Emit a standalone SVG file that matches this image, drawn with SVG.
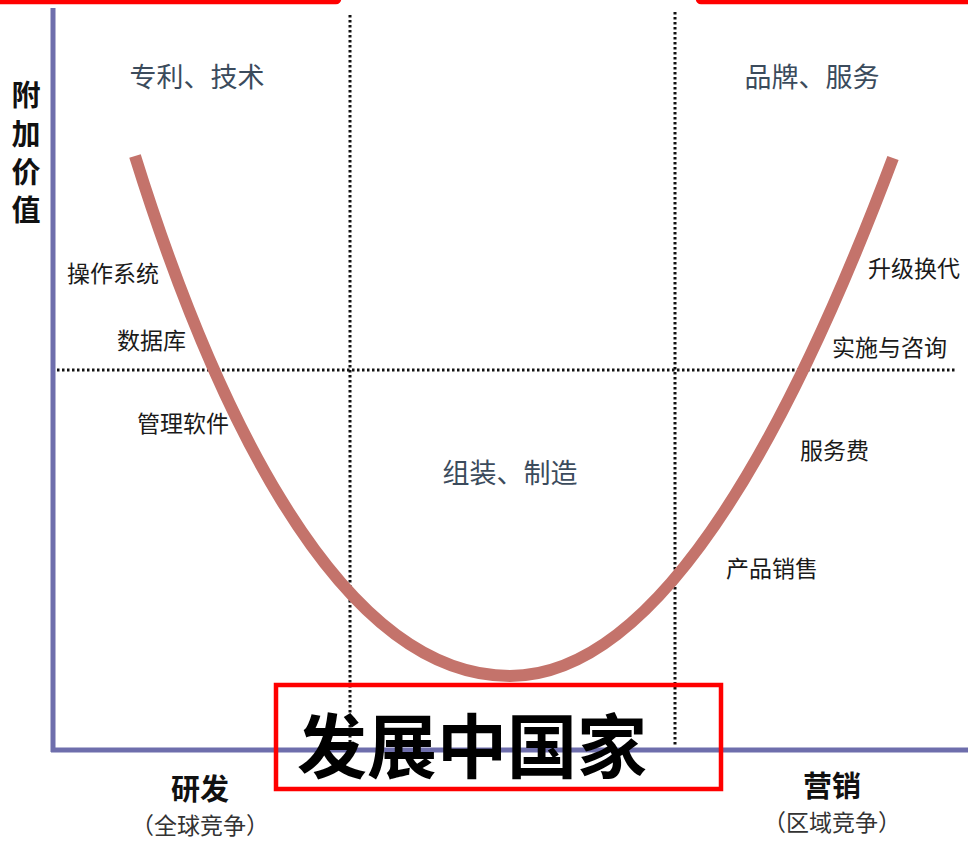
<svg xmlns="http://www.w3.org/2000/svg" width="968" height="842" viewBox="0 0 968 842">
<style>
.lbl{font-family:"Noto Sans CJK SC","Noto Sans",sans-serif;font-size:23px;fill:#1a1a1a;}
.zone{font-family:"Noto Sans CJK SC","Noto Sans",sans-serif;font-size:27px;fill:#3b4b5c;}
.ax{font-family:"Noto Sans CJK SC","Noto Sans",sans-serif;font-size:29px;font-weight:bold;fill:#111;}
.sub{font-family:"Noto Sans CJK SC","Noto Sans",sans-serif;font-size:23px;fill:#333;}
.dot{stroke:#111;stroke-width:3;stroke-dasharray:2.5 2.5;fill:none;}
.axis{stroke:#6e6eac;stroke-width:5;fill:none;}
.red{stroke:#ff0000;stroke-width:4.5;fill:none;}
</style>
<rect width="968" height="842" fill="#ffffff"/>
<g id="top-boxes">
<rect class="red" x="-10" y="-20" width="349" height="22" rx="3"/>
<rect class="red" x="698" y="-20" width="290" height="22" rx="3"/>
</g>
<g id="connectors">
<line class="dot" x1="350" y1="15" x2="350" y2="745"/>
<line class="dot" x1="675" y1="12" x2="675" y2="745"/>
<line class="dot" x1="57" y1="370" x2="956" y2="370"/>
<line class="axis" x1="53" y1="8" x2="53" y2="752"/>
<line class="axis" x1="51" y1="750" x2="968" y2="750"/>
<path d="M135,156 C205,380 330,676 510,676 C655,676 785,445 893,158" fill="none" stroke="#c4736b" stroke-width="12"/>
</g>
<g id="y-label">
<text class="ax" x="26" y="106" text-anchor="middle">附</text>
<text class="ax" x="26" y="145" text-anchor="middle">加</text>
<text class="ax" x="26" y="183" text-anchor="middle">价</text>
<text class="ax" x="26" y="221" text-anchor="middle">值</text>
</g>
<g id="zones">
<text class="zone" x="197" y="87" text-anchor="middle">专利、技术</text>
<text class="zone" x="812" y="87" text-anchor="middle">品牌、服务</text>
<text class="zone" x="510" y="483" text-anchor="middle">组装、制造</text>
</g>
<g id="left-labels">
<text class="lbl" x="67" y="282">操作系统</text>
<text class="lbl" x="117" y="349">数据库</text>
<text class="lbl" x="137" y="432">管理软件</text>
</g>
<g id="right-labels">
<text class="lbl" x="868" y="277">升级换代</text>
<text class="lbl" x="832" y="356">实施与咨询</text>
<text class="lbl" x="800" y="459">服务费</text>
<text class="lbl" x="726" y="577">产品销售</text>
</g>
<g id="x-labels">
<text class="ax" x="200" y="800" text-anchor="middle">研发</text>
<text class="sub" x="200" y="834" text-anchor="middle">（全球竞争）</text>
<text class="ax" x="832" y="797" text-anchor="middle">营销</text>
<text class="sub" x="832" y="831" text-anchor="middle">（区域竞争）</text>
</g>
<g id="developing">
<rect class="red" x="276" y="685" width="445" height="104"/>
<text x="297" y="773" font-family="'Noto Sans CJK SC',sans-serif" font-size="70" font-weight="bold" fill="#000">发展中国家</text>
</g>
</svg>
